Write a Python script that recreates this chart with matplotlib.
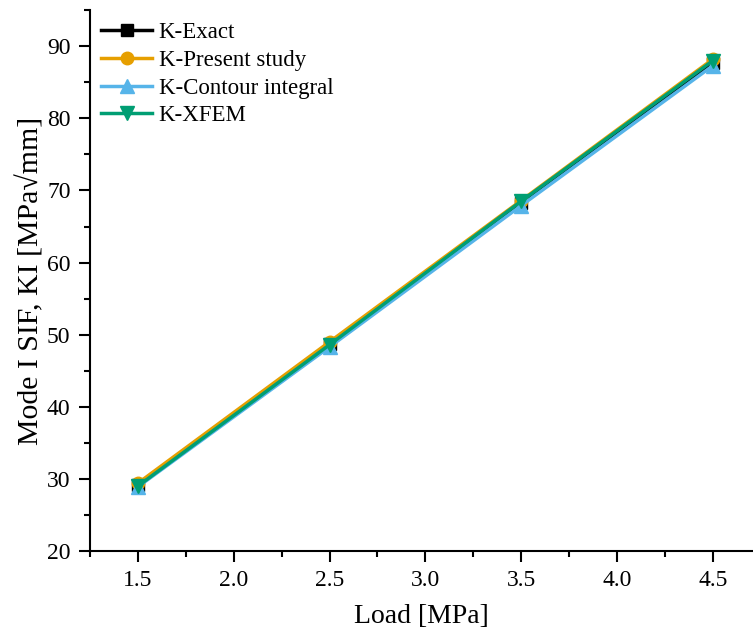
import matplotlib
matplotlib.use("Agg")
import matplotlib.pyplot as plt
from matplotlib.ticker import MultipleLocator

plt.rcParams['font.family'] = ['Liberation Serif', 'DejaVu Serif']
plt.rcParams['mathtext.fontset'] = 'stix'

load = [1.5, 2.5, 3.5, 4.5]
k_exact = [29.2, 48.7, 68.2, 87.7]
k_present = [29.4, 49.0, 68.6, 88.2]
k_contour = [28.9, 48.3, 67.9, 87.3]
k_xfem = [29.0, 48.6, 68.5, 88.0]

fig = plt.figure(figsize=(7.53, 6.37), dpi=100)
ax = fig.add_axes([0.1195, 0.135, 0.8805, 0.849])

ax.plot(load, k_exact, color='black', marker='s', ms=8, lw=2.5, label='K-Exact')
ax.plot(load, k_present, color='#E69F00', marker='o', ms=9, lw=2.5, label='K-Present study')
ax.plot(load, k_contour, color='#56B4E9', marker='^', ms=10, lw=2.5, label='K-Contour integral')
ax.plot(load, k_xfem, color='#009E73', marker='v', ms=10, lw=2.5, label='K-XFEM')

ax.set_xlim(1.25, 4.71)
ax.set_ylim(20, 95)
ax.xaxis.set_major_locator(MultipleLocator(0.5))
ax.xaxis.set_minor_locator(MultipleLocator(0.25))
ax.yaxis.set_major_locator(MultipleLocator(10))
ax.yaxis.set_minor_locator(MultipleLocator(5))
ax.tick_params(which='major', direction='out', length=8, width=1.5, labelsize=17, pad=6)
ax.tick_params(which='minor', direction='out', length=4, width=1.5)
for s in ['top', 'right']:
    ax.spines[s].set_visible(False)
for s in ['left', 'bottom']:
    ax.spines[s].set_linewidth(1.5)

ax.set_xlabel('Load [MPa]', fontsize=20, labelpad=9)
ax.set_ylabel('Mode I SIF, KI [MPa\u221amm]', fontsize=21.5, labelpad=2)

ax.legend(loc='upper left', frameon=False, fontsize=16.5, handlelength=2.2,
          handletextpad=0.3, labelspacing=0.3, borderaxespad=0.1,
          bbox_to_anchor=(0.0, 1.0))

fig.savefig('out.png', dpi=100)
